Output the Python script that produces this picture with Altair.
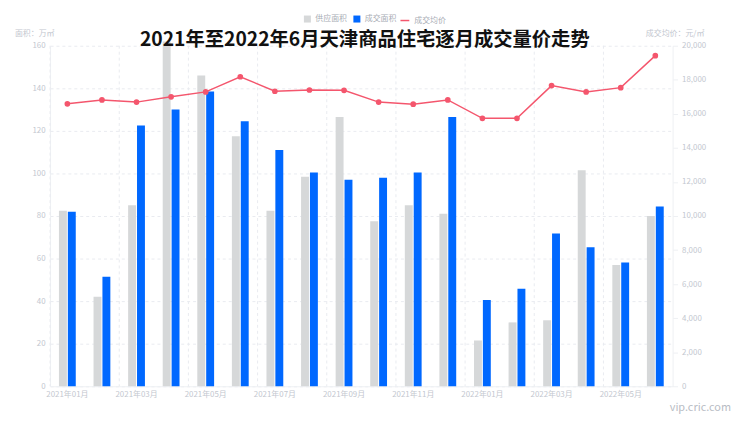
import altair as alt
import pandas as pd

months = ["2021年01月", "2021年02月", "2021年03月", "2021年04月", "2021年05月", "2021年06月",
          "2021年07月", "2021年08月", "2021年09月", "2021年10月", "2021年11月", "2021年12月",
          "2022年01月", "2022年02月", "2022年03月", "2022年04月", "2022年05月", "2022年06月"]
supply = [82.5, 42, 85, 162, 146, 117.5, 82.5, 98.5, 126.5, 77.5, 85, 81, 21.5, 30, 31, 101.5, 57, 80]
deal = [82, 51.5, 122.5, 130, 138.5, 124.5, 111, 100.5, 97, 98, 100.5, 126.5, 40.5, 45.8, 71.8, 65.3, 58.2, 84.5]
price = [16590, 16820, 16690, 17000, 17290, 18180, 17330, 17400, 17380, 16690, 16570, 16820,
         15740, 15740, 17660, 17290, 17540, 19420]
label_months = months[::2]
area_ticks = [0, 20, 40, 60, 80, 100, 120, 140, 160]
price_ticks = list(range(0, 20001, 2000))

title_text = "2021年至2022年6月天津商品住宅逐月成交量价走势"
bar_series = ["供应面积", "成交面积"]
bar_colors = ["#d6d8d9", "#0068ff"]
line_series = "成交均价"
line_color = "#f4566d"

rows = []
for m, s, d in zip(months, supply, deal):
    rows.append({"month": m, "series": bar_series[0], "value": s})
    rows.append({"month": m, "series": bar_series[1], "value": d})
bars_df = pd.DataFrame(rows)
price_df = pd.DataFrame({"month": months, "price": price, "series": line_series})
grid_df = pd.DataFrame({"month": label_months})

LBL = "#c3c7cf"
GRID = "#e9ebf0"
FONT = "Noto Sans CJK SC"

xscale = alt.Scale(domain=months, paddingInner=0, paddingOuter=0)

xaxis = alt.Axis(values=label_months, labelColor=LBL, labelFontSize=8, labelFont=FONT,
                 ticks=False, domainColor="#eef0f3", grid=False, labelPadding=4,
                 labelAngle=0, title=None)

vgrid = alt.Chart(grid_df).mark_rule(color=GRID, strokeDash=[3, 3], strokeWidth=1).encode(
    x=alt.X("month:N", scale=xscale, bandPosition=0, axis=xaxis, sort=months)
)

bars = alt.Chart(bars_df).mark_bar(width=8).encode(
    x=alt.X("month:N", scale=xscale, axis=xaxis, sort=months),
    xOffset=alt.XOffset("series:N", sort=bar_series,
                        scale=alt.Scale(domain=bar_series, paddingInner=0.111, paddingOuter=1.0)),
    y=alt.Y("value:Q", scale=alt.Scale(domain=[0, 160], nice=False),
            axis=alt.Axis(values=area_ticks, labelColor=LBL, labelFontSize=8, labelFont=FONT,
                          ticks=False, domainColor="#eef0f3", gridColor=GRID, gridDash=[3, 3],
                          labelPadding=5,
                          title="面积：万㎡", titleAngle=0, titleX=-16, titleY=-12,
                          titleAlign="center", titleBaseline="middle", titleFontSize=8,
                          titleFontWeight="normal", titleColor=LBL, titleFont=FONT)),
    fill=alt.Fill("series:N", scale=alt.Scale(domain=bar_series, range=bar_colors),
                  legend=alt.Legend(orient="none", direction="horizontal", legendX=256, legendY=-31,
                                    title=None, symbolType="square", symbolSize=50,
                                    labelFontSize=8, labelColor="#a9adb5", labelFont=FONT,
                                    columnPadding=6, symbolStrokeWidth=0)),
)

bar_layer = alt.layer(vgrid, bars)

line = alt.Chart(price_df).mark_line(strokeWidth=1.5, point=alt.OverlayMarkDef(size=14, filled=True, color=line_color)).encode(
    x=alt.X("month:N", scale=xscale, sort=months, axis=xaxis),
    y=alt.Y("price:Q", scale=alt.Scale(domain=[0, 20000], nice=False),
            axis=alt.Axis(values=price_ticks, format=",.0f", orient="right", labelColor=LBL,
                          labelFontSize=8, labelFont=FONT, ticks=True, tickColor="#eef0f3",
                          domainColor="#eef0f3", grid=False, labelPadding=4,
                          title="成交均价：元/㎡", titleAngle=0, titleX=2, titleY=-12,
                          titleAlign="center", titleBaseline="middle", titleFontSize=8,
                          titleFontWeight="normal", titleColor=LBL, titleFont=FONT)),
    stroke=alt.Stroke("series:N", scale=alt.Scale(domain=[line_series], range=[line_color]),
                      legend=alt.Legend(orient="none", direction="horizontal", legendX=353, legendY=-31,
                                        title=None, symbolType="stroke", symbolSize=80,
                                        labelFontSize=8, labelColor="#a9adb5", labelFont=FONT)),
)

title = alt.Chart(pd.DataFrame({"t": [title_text]})).mark_text(
    font=FONT, fontSize=19.5, fontWeight="bold", color="#111111", align="center", baseline="middle"
).encode(text="t:N", x=alt.value(318), y=alt.value(-6))

site = alt.Chart(pd.DataFrame({"t": ["vip.cric.com"]})).mark_text(
    font=FONT, fontSize=11, color="#b8bcc4", align="right", baseline="middle"
).encode(text="t:N", x=alt.value(688), y=alt.value(366))

chart = alt.layer(bar_layer, line, title, site).resolve_scale(
    y="independent", fill="independent", stroke="independent"
).properties(
    width=629, height=344,
    autosize=alt.AutoSizeParams(type="none"),
    padding={"left": 42.5, "top": 36, "right": 60, "bottom": 36},
    background="white",
).configure_view(stroke=None)

chart.save("out.html", embed_options={"renderer": "svg", "actions": False})
